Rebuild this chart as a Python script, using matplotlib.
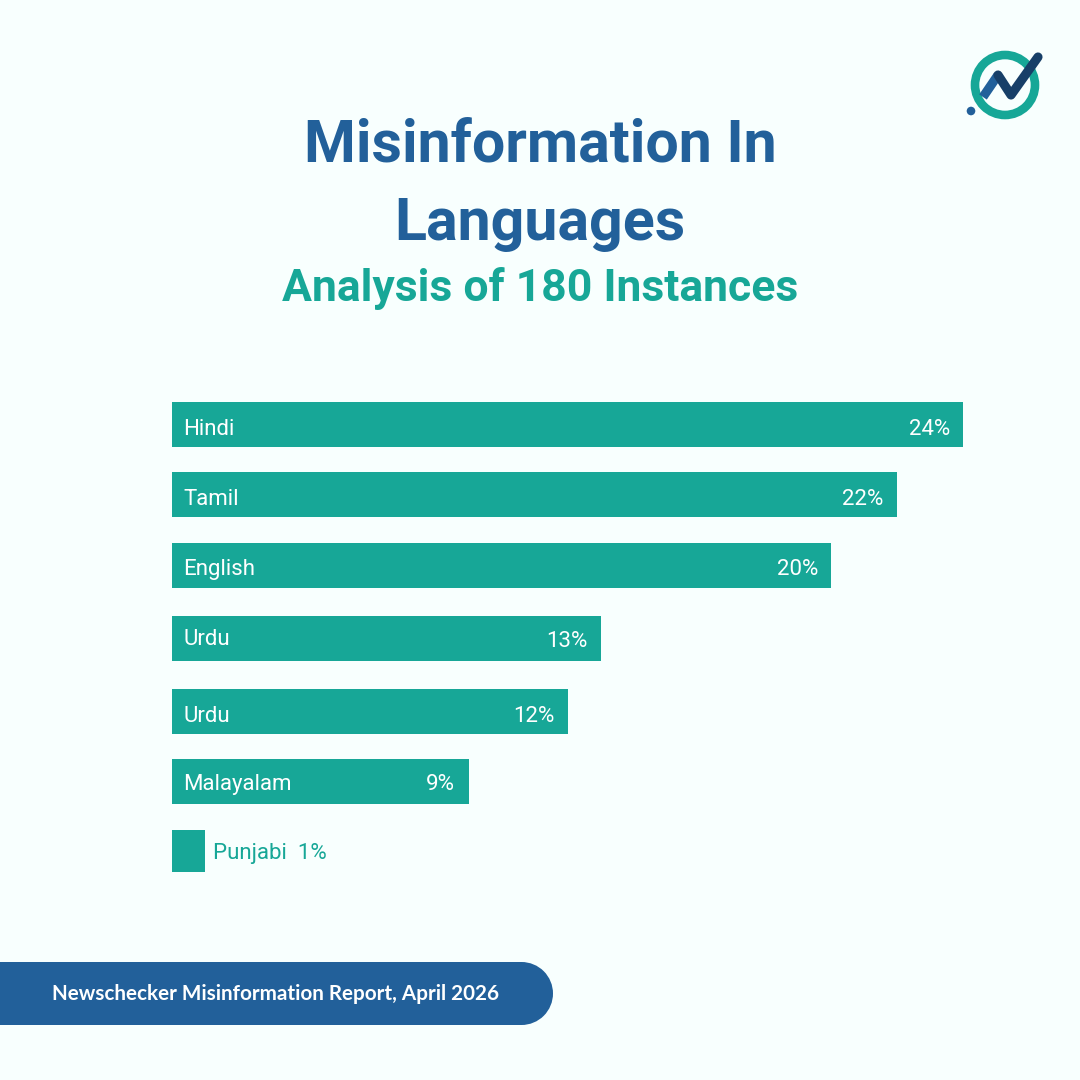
import matplotlib
matplotlib.use("Agg")
import matplotlib.pyplot as plt
from matplotlib.patches import Circle, Rectangle

# Dados
languages = ["Hindi", "Tamil", "English", "Urdu", "Urdu", "Malayalam", "Punjabi"]
shares = [24, 22, 20, 13, 12, 9, 1]

# Layout em pixels
BAR_TOPS = [402, 472, 543, 616, 689, 759, 830]
BAR_BOTTOMS = [447, 517, 588, 661, 734, 804, 872]
NAME_BASE = [435, 505, 575, 645, 722, 790, 859]
PCT_BASE = [435, 505, 575, 647, 722, 790, 859]
PX_PER_PCT = 32.97

BG = "#F8FFFE"
TEAL = "#17A797"
BLUE = "#22609A"
NAVY = "#173F68"

HEAD = ["Roboto", "DejaVu Sans"]

fig = plt.figure(figsize=(10.8, 10.8), dpi=100, facecolor=BG)

# Camada de fundo em coordenadas de pixel
bg = fig.add_axes([0, 0, 1, 1])
bg.set_xlim(0, 1080)
bg.set_ylim(1080, 0)
bg.axis("off")

bg.text(540, 161, "Misinformation In", ha="center", va="baseline", family=HEAD,
        fontsize=42.6, fontweight="bold", color=BLUE)
bg.text(540, 240, "Languages", ha="center", va="baseline", family=HEAD,
        fontsize=42.6, fontweight="bold", color=BLUE)
bg.text(540, 301, "Analysis of 180 Instances", ha="center", va="baseline", family=HEAD,
        fontsize=32, fontweight="bold", color=TEAL)

# Logo
bg.add_patch(Circle((1005, 85), 30, fill=False, ec=TEAL, lw=6.2))
bg.plot([983, 998], [97, 75], color=BLUE, lw=6.6, solid_capstyle="butt")
bg.plot([998, 1011, 1038], [75, 95, 57], color=NAVY, lw=6.6,
        solid_capstyle="round", solid_joinstyle="round")
bg.add_patch(Circle((971, 111), 4.3, fc=BLUE, ec="none"))

# Rodapé
bg.add_patch(Rectangle((0, 962), 521.5, 63, fc=BLUE, ec="none"))
bg.add_patch(Circle((521.5, 993.5), 31.5, fc=BLUE, ec="none"))
bg.text(52, 1000, "Newschecker Misinformation Report, April 2026",
        ha="left", va="baseline", family=["Lato", "DejaVu Sans"], fontsize=14.9,
        fontweight="bold", color="white")

# Barras: x em %, y em pixels
ax = fig.add_axes([172 / 1080, 0, (1080 - 172) / 1080, 1])
ax.set_xlim(0, (1080 - 172) / PX_PER_PCT)
ax.set_ylim(1080, 0)
ax.axis("off")
ax.patch.set_alpha(0)

for i, (lang, val) in enumerate(zip(languages, shares)):
    top, bot = BAR_TOPS[i], BAR_BOTTOMS[i]
    ax.barh((top + bot) / 2, val, height=bot - top, left=0, color=TEAL, linewidth=0)
    if val > 1:
        ax.annotate(lang, (0, NAME_BASE[i]), xytext=(8, 0), textcoords="offset points",
                    ha="left", va="baseline", family=HEAD, fontsize=16, color="white")
        ax.annotate(f"{val}%", (val, PCT_BASE[i]), xytext=(-9.7, 0), textcoords="offset points",
                    ha="right", va="baseline", family=HEAD, fontsize=16, color="white")
    else:
        ax.annotate(f"{lang}  {val}%", (val, NAME_BASE[i]), xytext=(6, 0),
                    textcoords="offset points", ha="left", va="baseline",
                    family=HEAD, fontsize=16, color=TEAL)

fig.savefig("out.png", dpi=100, facecolor=BG)
plt.close(fig)
